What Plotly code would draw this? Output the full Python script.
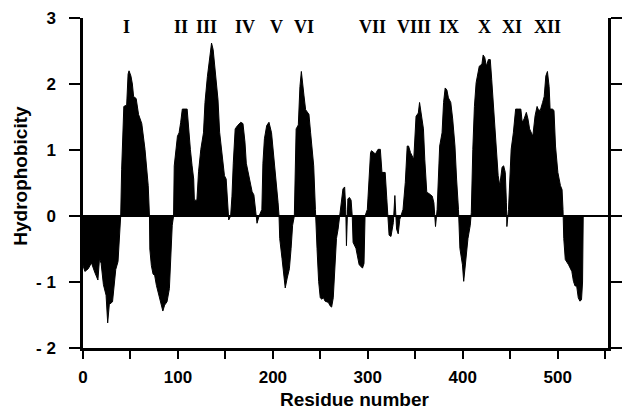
import plotly.graph_objects as go

# Hydrophobicity profile (residue number, value)
residue = [0, 2, 5.5, 8.9, 12.3, 15.7, 17.4, 19.1, 21.5, 24.3, 26, 27.7, 31.1, 32.8, 34.5, 36.9, 38.6, 39.7,
           40.7, 42, 43, 46, 47.5, 48.5, 50.5, 52, 53.3, 56, 58.5, 61.9, 65.3, 68.7, 70, 70.4, 72, 73.8, 75.5,
           77.3, 80.7, 84.1, 86, 88.5, 91, 92.6, 94, 95.4, 96.1, 99.5, 101.2, 102.9, 104.6, 109.7, 111.5, 113.1,
           114.9, 116.6, 117.3, 120, 121.7, 124.1, 126.9, 128.5, 131, 133.6, 135.4, 137.1, 138.8, 140.5, 142.2,
           143.9, 146.7, 149, 150.8, 152.5, 153.5, 155.5, 156.9, 158.3, 160.3, 162.8, 166.2, 168.5, 170.6, 172,
           174.7, 178.1, 180, 181.5, 183.3, 185.5, 188.4, 189.5, 191.1, 193.5, 195.9, 198.6, 201.4, 203.8, 205.5,
           206.5, 207.2, 209.6, 211.6, 213, 215.1, 217.4, 219.2, 220.8, 222.6, 223.5, 224.5, 226.8, 228.5, 230,
           231.5, 232.8, 234.5, 238, 239.7, 243, 244.8, 245.5, 246.5, 248.2, 249.9, 251.5, 253.3, 255, 258.5,
           260.2, 261.9, 263.6, 265.3, 267, 268.7, 270.4, 272, 273.8, 275.6, 276.8, 277.5, 278.3, 279, 280.7,
           282.4, 283.6, 284.5, 287.5, 290.9, 292.5, 294.4, 296, 297.1, 299.5, 301.2, 302.9, 303.9, 306.4, 308,
           310.8, 313.2, 314.9, 318.3, 320, 321, 322.4, 324.4, 326.9, 328.5, 329.5, 330.3, 332, 333.7, 337.1,
           339.5, 341.5, 342.9, 345, 348.4, 350.8, 353.2, 354.5, 356.6, 358.6, 360, 362.1, 364.4, 367.9, 369.6,
           371.3, 373, 375.7, 378.2, 379.8, 381.5, 383.3, 384.9, 387.4, 389.4, 391.8, 393.5, 395.5, 397, 399.7,
           401, 402.8, 405.5, 407.9, 409, 410.6, 412.3, 414.1, 417.4, 420.2, 421.5, 423.2, 424.9, 427, 429,
           430.5, 432.8, 435.2, 437.3, 439, 441.4, 443.1, 444.8, 446, 446.5, 448.2, 451, 453.3, 455.7, 458.5,
           461.2, 462.6, 464.6, 467, 468.7, 470.4, 473.8, 476.2, 478.3, 479.7, 481.7, 484.1, 485.8, 487.5, 489.2,
           491, 492, 494.4, 496.1, 497.7, 500.2, 502.9, 504.6, 505.6, 506.4, 508, 511.5, 514.9, 516.6, 518.3,
           520, 521.7, 523.4, 525.1, 526.2, 526.9]
hydrophobicity = [-0.75, -0.84, -0.8, -0.71, -0.85, -0.97, -0.64, -0.72, -1.04, -1.2, -1.62, -1.34, -1.3, -1.1,
                  -0.81, -0.69, -0.3, 0.0, 0.7, 1.3, 1.66, 1.68, 2.15, 2.2, 2.12, 2.0, 1.81, 1.78, 1.54, 1.4,
                  1.01, 0.46, 0.0, -0.5, -0.75, -0.88, -0.9, -1.05, -1.24, -1.44, -1.35, -1.3, -1.1, -0.49,
                  -0.14, 0.0, 0.76, 1.21, 1.26, 1.42, 1.62, 1.62, 1.21, 1.01, 0.76, 0.56, 0.24, 0.24, 0.67,
                  1.01, 1.26, 1.72, 2.11, 2.47, 2.62, 2.52, 2.26, 1.96, 1.76, 1.27, 0.91, 0.61, 0.56, 0.2,
                  -0.06, 0.0, 0.3, 0.8, 1.32, 1.37, 1.42, 1.4, 1.12, 0.8, 0.61, 0.37, 0.32, 0.15, -0.11, 0.0,
                  0.1, 0.8, 1.17, 1.37, 1.42, 1.26, 0.86, 0.46, 0.2, 0.0, -0.34, -0.64, -0.91, -1.09, -0.94,
                  -0.8, -0.49, -0.14, 0.0, 0.6, 1.32, 1.38, 1.96, 2.19, 1.95, 1.82, 1.61, 1.54, 1.27, 0.76,
                  0.1, -0.3, -0.49, -0.99, -1.24, -1.26, -1.24, -1.29, -1.31, -1.36, -1.38, -1.24, -0.74,
                  -0.34, -0.2, 0.0, 0.2, 0.41, 0.44, 0.1, -0.45, -0.1, 0.26, 0.28, 0.24, 0.0, -0.4, -0.49,
                  -0.74, -0.76, -0.79, -0.72, 0.0, 0.1, 0.56, 0.96, 0.99, 0.96, 0.94, 1.01, 1.01, 0.66, 0.66,
                  0.26, 0.05, -0.29, -0.31, -0.1, 0.31, 0.0, -0.2, -0.27, -0.05, 0.1, 0.51, 1.06, 1.06, 0.96,
                  0.86, 1.51, 1.56, 1.72, 1.47, 1.32, 0.86, 0.36, 0.34, 0.3, 0.2, -0.16, 0.1, 1.06, 1.26,
                  1.72, 1.94, 1.91, 1.79, 1.72, 1.47, 1.06, 0.56, 0.1, -0.49, -0.74, -0.99, -0.74, -0.34,
                  -0.14, 0.05, 1.01, 1.66, 2.02, 2.27, 2.3, 2.44, 2.4, 2.27, 2.37, 2.37, 2.07, 1.51, 1.01,
                  0.61, 0.46, 0.74, 0.76, 0.66, 0.2, -0.16, 0.1, 1.01, 1.26, 1.62, 1.62, 1.62, 1.42, 1.47,
                  1.57, 1.47, 1.32, 1.21, 1.52, 1.66, 1.61, 1.6, 1.72, 1.81, 2.12, 2.19, 1.96, 1.62, 1.62,
                  1.6, 1.06, 0.66, 0.46, 0.4, 0.1, -0.34, -0.66, -0.74, -0.84, -0.99, -1.06, -1.06, -1.24,
                  -1.29, -1.27, -1.0, 0.0]

# Transmembrane segment labels
segment_labels = ["I", "II", "III", "IV", "V", "VI", "VII", "VIII", "IX", "X", "XI", "XII"]
segment_pos = [46, 103, 130, 171, 204, 233, 305, 349, 386, 423, 452, 489]

x_tickvals = list(range(0, 551, 50))
x_ticktext = [str(v) if v % 100 == 0 else "" for v in x_tickvals]
y_tickvals = [-2, -1, 0, 1, 2, 3]
y_ticktext = ["- 2", "- 1", "0", "1", "2", "3"]

fig = go.Figure()
fig.add_trace(go.Scatter(
    x=residue, y=hydrophobicity, mode="lines",
    line=dict(color="black", width=1),
    fill="tozeroy", fillcolor="black", hoverinfo="skip", showlegend=False,
))

tickfont = dict(family="Liberation Sans, Arial, sans-serif", size=17, color="black", weight="bold")
fig.update_layout(
    width=631, height=413,
    margin=dict(l=83, r=9, t=16, b=65),
    plot_bgcolor="white", paper_bgcolor="white",
    xaxis=dict(range=[0, 553], tickvals=x_tickvals, ticktext=x_ticktext,
               showline=True, linecolor="black", linewidth=2.5,
               ticks="outside", ticklen=8, tickwidth=2, tickcolor="black",
               showgrid=False, zeroline=False, tickfont=tickfont, ticklabelstandoff=4),
    yaxis=dict(range=[-2, 3], tickvals=y_tickvals, ticktext=y_ticktext,
               showline=True, linecolor="black", linewidth=2.5, mirror="ticks",
               ticks="outside", ticklen=11, tickwidth=2, tickcolor="black",
               showgrid=False, zeroline=True, zerolinecolor="black", zerolinewidth=2,
               tickfont=tickfont, ticklabelstandoff=10),
)

for lab, pos in zip(segment_labels, segment_pos):
    fig.add_annotation(x=pos, y=2.86, xref="x", yref="y", text=lab, showarrow=False,
                       font=dict(family="Liberation Serif, Times New Roman, serif", size=18,
                                 color="black", weight="bold"),
                       xanchor="center", yanchor="middle")

fig.add_annotation(x=0.5176, y=-0.157, xref="paper", yref="paper", text="Residue number",
                   showarrow=False, xanchor="center", yanchor="middle",
                   font=dict(family="Liberation Sans, Arial, sans-serif", size=19, color="black", weight="bold"))
fig.add_annotation(x=-0.1206, y=0.521, xref="paper", yref="paper", text="Hydrophobicity",
                   showarrow=False, xanchor="center", yanchor="middle", textangle=-90,
                   font=dict(family="Liberation Sans, Arial, sans-serif", size=19, color="black", weight="bold"))

fig.write_html("out.html", config={"displayModeBar": False},
               post_script="document.body.style.margin='0';")
